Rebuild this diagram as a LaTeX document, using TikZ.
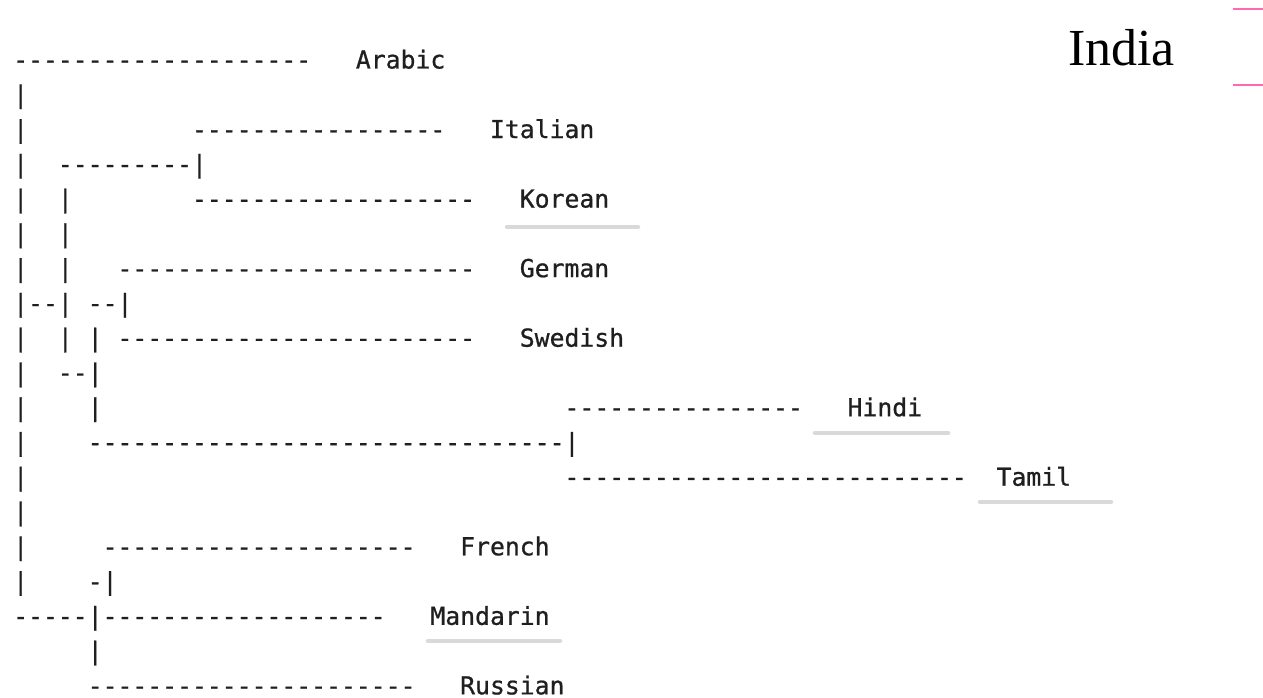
\documentclass[tikz,border=0pt]{standalone}
\usepackage{fontspec}
\setmainfont{Liberation Serif}
\setmonofont{DejaVu Sans Mono}[FakeBold=0.8]
\definecolor{pinkline}{RGB}{255,105,180}
\tikzset{
  asc/.style={anchor=base west, inner sep=0pt, text=black!88,
    font=\ttfamily\fontsize{24.75}{30}\selectfont},
  uline/.style={line width=4.5pt, line cap=round, gray!30},
  pinkrule/.style={line width=2pt, pinkline}
}
\begin{document}
\begin{tikzpicture}[x=1pt,y=-1pt]
	\useasboundingbox (0,0) rectangle (1263,698);
	\node[anchor=base west, inner sep=0pt, font=\fontsize{52}{60}\selectfont] (india) at (1068,65.7) {India};
	\draw[pinkrule] (1233,9) -- (1263,9);
	\draw[pinkrule] (1233,85) -- (1263,85);
	% grey marks under some names
	\draw[uline] (507,227) -- (638,227);
	\draw[uline] (815,433) -- (948,433);
	\draw[uline] (980,502) -- (1111,502);
	\draw[uline] (428,641) -- (560,641);
	\begin{scope}[x=14.9pt,y=-34.77pt,shift={(13pt,-68.5pt)}]
		\node[asc] (r0a) at (0,0) {--------------------};
		\node[asc] (arabic) at (23,0) {Arabic};
		\node[asc] (r1a) at (0,1) {|};
		\node[asc] (r2a) at (0,2) {|};
		\node[asc] (r2b) at (12,2) {-----------------};
		\node[asc] (italian) at (32,2) {Italian};
		\node[asc] (r3a) at (0,3) {|};
		\node[asc] (r3b) at (3,3) {---------|};
		\node[asc] (r4a) at (0,4) {|};
		\node[asc] (r4b) at (3,4) {|};
		\node[asc] (r4c) at (12,4) {-------------------};
		\node[asc] (korean) at (34,4) {Korean};
		\node[asc] (r5a) at (0,5) {|};
		\node[asc] (r5b) at (3,5) {|};
		\node[asc] (r6a) at (0,6) {|};
		\node[asc] (r6b) at (3,6) {|};
		\node[asc] (r6c) at (7,6) {------------------------};
		\node[asc] (german) at (34,6) {German};
		\node[asc] (r7a) at (0,7) {|--|};
		\node[asc] (r7b) at (5,7) {--|};
		\node[asc] (r8a) at (0,8) {|};
		\node[asc] (r8b) at (3,8) {|};
		\node[asc] (r8c) at (5,8) {|};
		\node[asc] (r8d) at (7,8) {------------------------};
		\node[asc] (swedish) at (34,8) {Swedish};
		\node[asc] (r9a) at (0,9) {|};
		\node[asc] (r9b) at (3,9) {--|};
		\node[asc] (r10a) at (0,10) {|};
		\node[asc] (r10b) at (5,10) {|};
		\node[asc] (r10c) at (37,10) {----------------};
		\node[asc] (hindi) at (56,10) {Hindi};
		\node[asc] (r11a) at (0,11) {|};
		\node[asc] (r11b) at (5,11) {--------------------------------|};
		\node[asc] (r12a) at (0,12) {|};
		\node[asc] (r12b) at (37,12) {---------------------------};
		\node[asc] (tamil) at (66,12) {Tamil};
		\node[asc] (r13a) at (0,13) {|};
		\node[asc] (r14a) at (0,14) {|};
		\node[asc] (r14b) at (6,14) {---------------------};
		\node[asc] (french) at (30,14) {French};
		\node[asc] (r15a) at (0,15) {|};
		\node[asc] (r15b) at (5,15) {-|};
		\node[asc] (r16a) at (0,16) {-----|-------------------};
		\node[asc] (mandarin) at (28,16) {Mandarin};
		\node[asc] (r17a) at (5,17) {|};
		\node[asc] (r18a) at (5,18) {----------------------};
		\node[asc] (russian) at (30,18) {Russian};
	\end{scope}
\end{tikzpicture}
\end{document}
